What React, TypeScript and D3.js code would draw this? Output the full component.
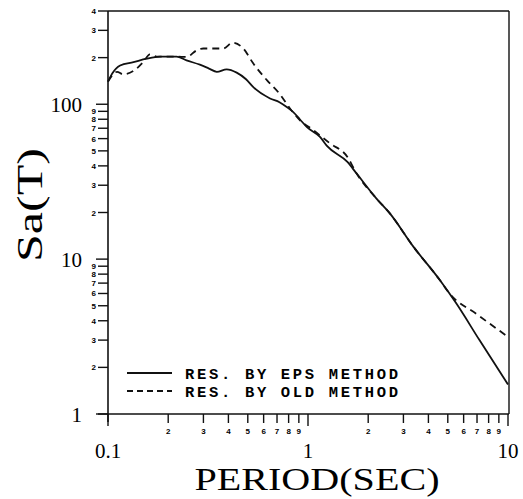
import React, { useEffect, useRef } from "react";
import * as d3 from "d3";

const periodEps = [0.1, 0.105, 0.115, 0.134, 0.156, 0.182, 0.22, 0.247, 0.288, 0.32, 0.35, 0.392, 0.44, 0.49, 0.533, 0.646, 0.72, 0.783, 0.844, 0.91, 0.985, 1.148, 1.24, 1.574, 1.75, 2.2, 2.56, 3.37, 4.57, 5.5, 7.2, 10];
const saEps = [140, 158, 178, 187, 197, 203, 203, 192, 180, 170, 162, 168, 160, 145, 129, 109, 103, 96, 89, 80, 71.4, 61.5, 54, 42.4, 35.7, 24.6, 19.8, 12, 7.3, 5.2, 3.0, 1.55];

const periodOld = [0.1, 0.111, 0.119, 0.134, 0.15, 0.162, 0.175, 0.22, 0.247, 0.278, 0.3, 0.377, 0.42, 0.475, 0.533, 0.623, 0.72, 0.825, 0.912, 1.063, 1.29, 1.574, 1.75, 2.2, 2.56, 3.37, 4.57, 5.1, 7.0, 10];
const saOld = [140, 162, 156, 164, 187, 210, 203, 203, 202, 223, 229, 229, 250, 229, 183, 143, 117, 91.5, 78.8, 68, 55.8, 45.7, 35.7, 24.6, 19.8, 12, 7.3, 6.0, 4.4, 3.15];

const xMajor = [0.1, 1, 10];
const xMajorLabels = ["0.1", "1", "10"];
const yMajor = [1, 10, 100];
const yMajorLabels = ["1", "10", "100"];
const minorDigits = [2, 3, 4, 5, 6, 7, 8, 9];
const yTopMinor = [2, 3, 4];

const legendLabels = ["RES. BY EPS METHOD", "RES. BY OLD METHOD"];
const xTitle = "PERIOD(SEC)";
const yTitle = "Sa(T)";

export default function App() {
  const ref = useRef<SVGSVGElement>(null);
  useEffect(() => {
    const svg = d3.select(ref.current);
    svg.selectAll("*").remove();
    const x = d3.scaleLog().domain([0.1, 10]).range([108, 508]);
    const y = d3.scaleLog().domain([1, 400]).range([414, 11]);
    const g = svg.append("g");

    // frame
    g.append("line").attr("x1", 108).attr("x2", 108).attr("y1", 11).attr("y2", 422).attr("stroke", "#111").attr("stroke-width", 1.6);
    g.append("line").attr("x1", 98).attr("x2", 509).attr("y1", 414).attr("y2", 414).attr("stroke", "#111").attr("stroke-width", 1.6);
    g.append("line").attr("x1", 108).attr("x2", 509).attr("y1", 11).attr("y2", 11).attr("stroke", "#111").attr("stroke-width", 1.4);
    g.append("line").attr("x1", 509).attr("x2", 509).attr("y1", 11).attr("y2", 414).attr("stroke", "#111").attr("stroke-width", 1.4);

    const minorFont = (sel: any) => sel.attr("font-family", "Liberation Sans, sans-serif").attr("font-weight", "bold").attr("font-size", 8);

    // x ticks
    const xDecades = [0.1, 1];
    xDecades.forEach((d) => {
      minorDigits.forEach((m) => {
        const v = d * m;
        g.append("line").attr("x1", x(v)).attr("x2", x(v)).attr("y1", 414).attr("y2", 423).attr("stroke", "#111").attr("stroke-width", 1.4);
        g.append("text").attr("x", x(v)).attr("y", 434).attr("text-anchor", "middle").call(minorFont).text(String(m));
      });
    });
    xMajor.forEach((v, i) => {
      g.append("line").attr("x1", x(v)).attr("x2", x(v)).attr("y1", 414).attr("y2", 426).attr("stroke", "#111").attr("stroke-width", 1.4);
      g.append("text").attr("x", x(v)).attr("y", 458).attr("text-anchor", "middle")
        .attr("font-family", "Liberation Serif, serif").attr("font-size", 21).text(xMajorLabels[i]);
    });

    // y ticks
    const yDecades = [1, 10];
    yDecades.forEach((d) => {
      minorDigits.forEach((m) => {
        const v = d * m;
        g.append("line").attr("x1", 98).attr("x2", 108).attr("y1", y(v)).attr("y2", y(v)).attr("stroke", "#111").attr("stroke-width", 1.4);
        g.append("text").attr("x", 96).attr("y", y(v) + 3).attr("text-anchor", "end").call(minorFont).text(String(m));
      });
    });
    yTopMinor.forEach((m) => {
      const v = 100 * m;
      g.append("line").attr("x1", 98).attr("x2", 108).attr("y1", y(v)).attr("y2", y(v)).attr("stroke", "#111").attr("stroke-width", 1.4);
      g.append("text").attr("x", 96).attr("y", y(v) + 3).attr("text-anchor", "end").call(minorFont).text(String(m));
    });
    yMajor.forEach((v, i) => {
      g.append("line").attr("x1", 96).attr("x2", 108).attr("y1", y(v)).attr("y2", y(v)).attr("stroke", "#111").attr("stroke-width", 1.4);
      g.append("text").attr("x", 82).attr("y", y(v) + 8).attr("text-anchor", "end")
        .attr("font-family", "Liberation Serif, serif").attr("font-size", 21).text(yMajorLabels[i]);
    });

    // titles
    g.append("text").attr("x", 317).attr("y", 490).attr("text-anchor", "middle")
      .attr("font-family", "Liberation Serif, serif").attr("font-size", 31)
      .attr("textLength", 245).attr("lengthAdjust", "spacingAndGlyphs").text(xTitle);
    g.append("text").attr("transform", "translate(42,205) rotate(-90)").attr("text-anchor", "middle")
      .attr("font-family", "Liberation Serif, serif").attr("font-size", 35)
      .attr("textLength", 114).attr("lengthAdjust", "spacingAndGlyphs").text(yTitle);

    // curves
    const line = d3.line<[number, number]>().x((d) => x(d[0])).y((d) => y(d[1])).curve(d3.curveMonotoneX);
    const epsData = periodEps.map((p, i) => [p, saEps[i]] as [number, number]);
    const oldData = periodOld.map((p, i) => [p, saOld[i]] as [number, number]);
    g.append("path").attr("d", line(oldData)).attr("fill", "none").attr("stroke", "#111").attr("stroke-width", 1.8).attr("stroke-dasharray", "7,5");
    g.append("path").attr("d", line(epsData)).attr("fill", "none").attr("stroke", "#111").attr("stroke-width", 1.8);

    // legend
    const ly = [373, 391];
    legendLabels.forEach((lab, i) => {
      g.append("line").attr("x1", 127).attr("x2", 172).attr("y1", ly[i]).attr("y2", ly[i]).attr("stroke", "#111")
        .attr("stroke-width", 1.8).attr("stroke-dasharray", i === 0 ? null : "6,4");
      g.append("text").attr("x", 185).attr("y", ly[i] + 5.5).attr("font-family", "Liberation Mono, monospace")
        .attr("font-weight", "bold").attr("font-size", 15.5).attr("textLength", 213).attr("lengthAdjust", "spacing").text(lab);
    });
  }, []);
  return (
    <svg ref={ref} width={523} height={499} style={{ position: "absolute", left: 0, top: 0, background: "#fff" }} />
  );
}
